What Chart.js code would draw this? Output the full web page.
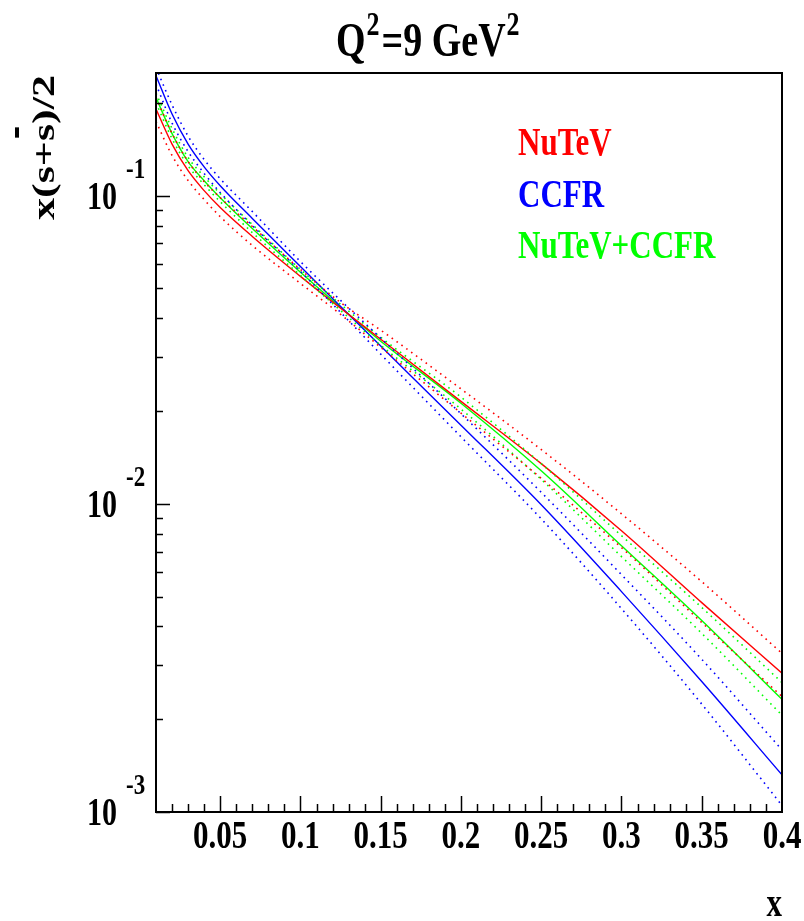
<!DOCTYPE html>
<html>
<head>
<meta charset="utf-8">
<script src="https://cdn.jsdelivr.net/npm/chart.js@4.4.1/dist/chart.umd.min.js"></script>
<style>
  html, body { margin: 0; padding: 0; background: #fff; }
  #wrap { width: 804px; height: 921px; }
</style>
</head>
<body>
<div id="wrap"><canvas id="strange-chart" width="804" height="921"></canvas></div>
<script>
// x grid the curves were read at
const xValues = [0.01, 0.02, 0.03, 0.04, 0.05, 0.07, 0.1, 0.125, 0.15, 0.2, 0.25, 0.3, 0.35, 0.4];

// NuTeV (red)
const nutev = [0.191, 0.147, 0.1205, 0.1038, 0.0915, 0.0737, 0.0547, 0.0431, 0.0342, 0.0215, 0.0135, 0.00818, 0.00478, 0.00282];
const nutevUp = [0.208, 0.159, 0.129, 0.111, 0.0985, 0.0794, 0.0576, 0.045, 0.0366, 0.0236, 0.015, 0.00928, 0.00559, 0.00327];
const nutevLo = [0.174, 0.135, 0.112, 0.0971, 0.0855, 0.0689, 0.0519, 0.0412, 0.0322, 0.0197, 0.0121, 0.00721, 0.00412, 0.00237];

// CCFR (blue)
const ccfr = [0.245, 0.184, 0.147, 0.124, 0.1077, 0.0843, 0.0589, 0.0437, 0.0325, 0.018, 0.00993, 0.00519, 0.00265, 0.00132];
const ccfrUp = [0.26, 0.197, 0.156, 0.131, 0.1135, 0.0888, 0.0611, 0.0457, 0.0345, 0.0196, 0.0109, 0.00589, 0.00313, 0.00159];
const ccfrLo = [0.23, 0.172, 0.139, 0.118, 0.1023, 0.08, 0.0568, 0.0418, 0.0306, 0.0165, 0.00894, 0.00457, 0.00224, 0.00105];

// NuTeV+CCFR (green)
const combined = [0.208, 0.159, 0.129, 0.1118, 0.0985, 0.0782, 0.0564, 0.0434, 0.0337, 0.0212, 0.0128, 0.00731, 0.00418, 0.00232];
const combinedUp = [0.215, 0.165, 0.133, 0.1152, 0.1015, 0.0806, 0.0576, 0.0444, 0.0347, 0.0222, 0.0135, 0.00788, 0.00461, 0.00263];
const combinedLo = [0.2, 0.153, 0.125, 0.1085, 0.0956, 0.0759, 0.0551, 0.0424, 0.0327, 0.0203, 0.012, 0.00674, 0.0038, 0.00206];

const seriesNames = ["NuTeV", "CCFR", "NuTeV+CCFR"];
const seriesColors = ["#ff0000", "#0000ff", "#00ff00"];

const xMajorTicks = [0.05, 0.1, 0.15, 0.2, 0.25, 0.3, 0.35, 0.4];
const xTickLabels = ["0.05", "0.1", "0.15", "0.2", "0.25", "0.3", "0.35", "0.4"];
const yMajorTicks = [0.1, 0.01, 0.001];
const yTickExponents = ["-1", "-2", "-3"];

const SERIF = "'Liberation Serif', 'DejaVu Serif', serif";

function toPoints(arr) {
  return arr.map((v, i) => ({ x: xValues[i], y: v }));
}

function curve(label, data, color, dotted) {
  return {
    label: label,
    data: toPoints(data),
    borderColor: color,
    borderWidth: dotted ? 1.6 : 1.4,
    borderDash: dotted ? [1.6, 4.4] : [],
    pointRadius: 0,
    fill: false,
    cubicInterpolationMode: "monotone",
  };
}

// stretched serif text, like the ROOT canvas
function stretchedText(ctx, str, x, y, size, sy, align, color) {
  ctx.save();
  ctx.font = "bold " + size + "px " + SERIF;
  ctx.fillStyle = color || "#000";
  ctx.textAlign = align || "left";
  ctx.textBaseline = "alphabetic";
  ctx.translate(x, y);
  ctx.scale(1, sy);
  ctx.fillText(str, 0, 0);
  ctx.restore();
}

const rootFrame = {
  id: "rootFrame",
  afterDraw(chart) {
    const ctx = chart.ctx;
    const area = chart.chartArea;
    const xs = chart.scales.x;
    const ys = chart.scales.y;

    ctx.save();
    ctx.strokeStyle = "#000";
    ctx.lineWidth = 1.5;
    ctx.beginPath();
    // x ticks, inward from the bottom
    for (let t = 0.02; t < 0.4; t += 0.01) {
      const v = Math.round(t * 100) / 100;
      const major = xMajorTicks.some((m) => Math.abs(m - v) < 1e-6);
      const px = Math.round(xs.getPixelForValue(v)) + 0.5;
      ctx.moveTo(px, area.bottom);
      ctx.lineTo(px, area.bottom - (major ? 16 : 8));
    }
    // y ticks, inward from the left
    for (let d = 0.001; d < 0.3; d *= 10) {
      for (let m = 1; m <= 9; m++) {
        const v = d * m;
        if (v > ys.max) break;
        const py = Math.round(ys.getPixelForValue(v)) + 0.5;
        ctx.moveTo(area.left, py);
        ctx.lineTo(area.left + (m === 1 ? 14 : 7), py);
      }
    }
    ctx.stroke();

    ctx.lineWidth = 2;
    ctx.strokeRect(area.left, area.top, area.right - area.left, area.bottom - area.top);
    ctx.restore();

    // x tick labels
    xMajorTicks.forEach((t, i) => {
      stretchedText(ctx, xTickLabels[i], xs.getPixelForValue(t), area.bottom + 36, 31, 1.3, "center");
    });

    // y tick labels 10^-n
    yMajorTicks.forEach((t, i) => {
      const py = ys.getPixelForValue(t);
      stretchedText(ctx, "10", 117, py + 13, 30, 1.3, "right");
      stretchedText(ctx, yTickExponents[i], 126, py - 18, 23, 1.3, "left");
    });

    // legend text
    seriesNames.forEach((name, i) => {
      stretchedText(ctx, name, 518, 155 + i * 51.5, 31, 1.3, "left", seriesColors[i]);
    });

    // title Q^2=9 GeV^2
    let tx = 336;
    const base = 56;
    const parts = [
      ["Q", 38, 0, 1],
      ["2", 26, -21, 2],
      ["=9 GeV", 38, 0, 1],
      ["2", 26, -21, 0],
    ];
    parts.forEach((p) => {
      stretchedText(ctx, p[0], tx, base + p[2], p[1], 1.3, "left");
      ctx.save();
      ctx.font = "bold " + p[1] + "px " + SERIF;
      tx += ctx.measureText(p[0]).width + p[3];
      ctx.restore();
    });

    // x axis title
    stretchedText(ctx, "x", 782, 916, 31, 1.3, "right");

    // y axis title, rotated: x(s+s-bar)/2
    ctx.save();
    const label = "x(s+s)/2";
    ctx.font = "bold 31px " + SERIF;
    const w = ctx.measureText(label).width;
    const stretch = 145 / w;
    ctx.translate(54, 220);
    ctx.rotate(-Math.PI / 2);
    ctx.scale(stretch, 1);
    ctx.fillStyle = "#000";
    ctx.textAlign = "left";
    ctx.fillText(label, 0, 0);
    const pre = ctx.measureText("x(s+").width;
    const sw = ctx.measureText("s").width;
    ctx.fillRect(pre + sw * 0.2, -39, sw * 0.6, 4);
    ctx.restore();
  },
};

const ctx = document.getElementById("strange-chart").getContext("2d");
new Chart(ctx, {
  type: "line",
  plugins: [rootFrame],
  data: {
    datasets: [
      curve("NuTeV up", nutevUp, seriesColors[0], true),
      curve("NuTeV lo", nutevLo, seriesColors[0], true),
      curve("CCFR up", ccfrUp, seriesColors[1], true),
      curve("CCFR lo", ccfrLo, seriesColors[1], true),
      curve("NuTeV+CCFR up", combinedUp, seriesColors[2], true),
      curve("NuTeV+CCFR lo", combinedLo, seriesColors[2], true),
      curve(seriesNames[0], nutev, seriesColors[0], false),
      curve(seriesNames[1], ccfr, seriesColors[1], false),
      curve(seriesNames[2], combined, seriesColors[2], false),
    ],
  },
  options: {
    responsive: false,
    animation: false,
    layout: { padding: { left: 156, right: 22, top: 73, bottom: 109 } },
    plugins: {
      legend: { display: false },
      title: { display: false },
      tooltip: { enabled: false },
    },
    scales: {
      x: {
        type: "linear",
        min: 0.01,
        max: 0.4,
        grid: { display: false },
        border: { display: false },
        ticks: { display: false },
        afterFit: (s) => { s.height = 0; },
      },
      y: {
        type: "logarithmic",
        min: 0.001,
        max: 0.25,
        grid: { display: false },
        border: { display: false },
        ticks: { display: false },
        afterFit: (s) => { s.width = 0; },
      },
    },
  },
});
</script>
</body>
</html>
